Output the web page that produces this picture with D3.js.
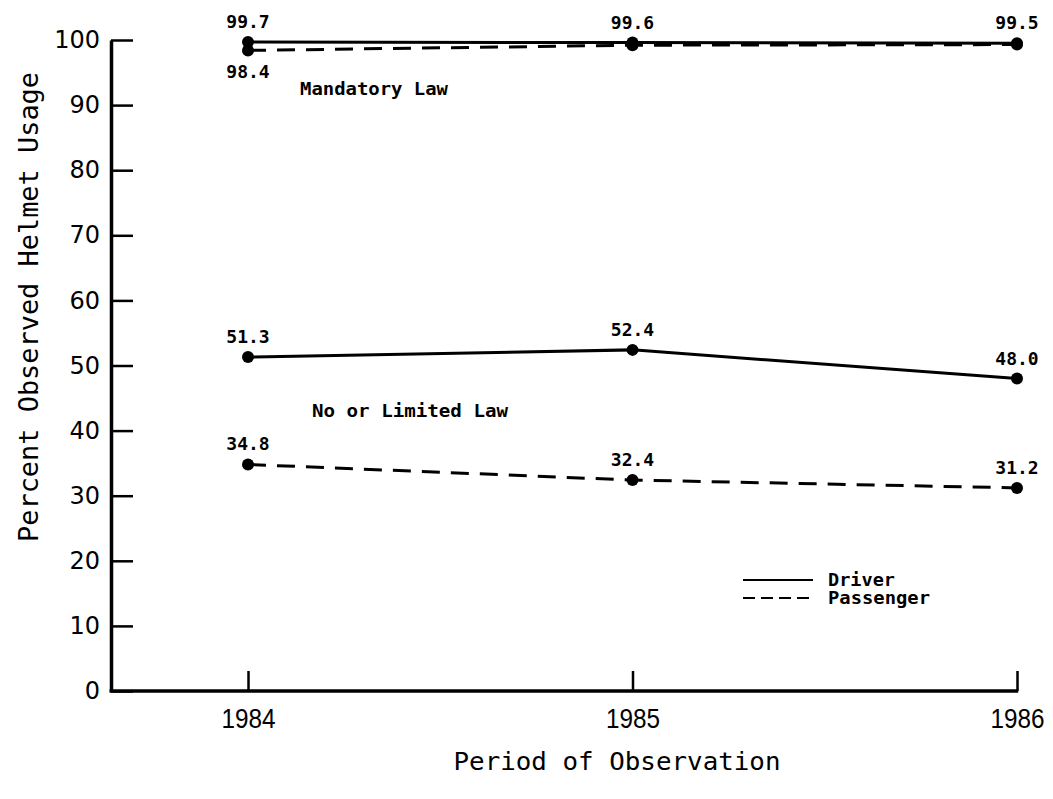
<!DOCTYPE html>
<html>
<head>
<meta charset="utf-8">
<script src="https://cdn.jsdelivr.net/npm/d3@7"></script>
<style>
  html, body { margin: 0; padding: 0; background: #fff; }
  svg { display: block; }
</style>
</head>
<body>
<svg id="chart" width="1053" height="799"></svg>
<script>
// ---- data ----
const years = [1984, 1985, 1986];
const yTicks = [0, 10, 20, 30, 40, 50, 60, 70, 80, 90, 100];
const mandatoryDriver = [99.7, 99.6, 99.5];
const mandatoryPassenger = [98.4, 99.2, 99.3];
const limitedDriver = [51.3, 52.4, 48.0];
const limitedPassenger = [34.8, 32.4, 31.2];
const mandatoryDriverLabels = ["99.7", "99.6", "99.5"];
const mandatoryPassengerLabels = ["98.4", null, null];
const limitedDriverLabels = ["51.3", "52.4", "48.0"];
const limitedPassengerLabels = ["34.8", "32.4", "31.2"];
const groupNames = ["Mandatory Law", "No or Limited Law"];
const legendNames = ["Driver", "Passenger"];
const xTitle = "Period of Observation";
const yTitle = "Percent Observed Helmet Usage";

// ---- layout ----
const svg = d3.select("#chart");
const axisX = 111;
const x = d3.scaleLinear().domain([1984, 1986]).range([248, 1017]);
const y = d3.scaleLinear().domain([0, 100]).range([691, 40]);
const ink = "#000";
const monoBold = "'DejaVu Sans Mono', monospace";

// y axis
const yAxis = svg.append("g")
  .attr("transform", `translate(${axisX},0)`)
  .call(d3.axisLeft(y).tickValues(yTicks).tickSizeInner(-22).tickSizeOuter(0).tickPadding(11));
yAxis.select(".domain").attr("stroke", ink).attr("stroke-width", 3.5);
yAxis.selectAll(".tick line").attr("stroke", ink).attr("stroke-width", 2.5);
yAxis.selectAll(".tick text")
  .attr("fill", ink)
  .style("font-family", "'DejaVu Sans', sans-serif")
  .style("font-size", "24px");

// x axis
const xAxis = svg.append("g")
  .attr("transform", `translate(0,${y(0)})`)
  .call(d3.axisBottom(x).tickValues(years).tickFormat(d3.format("d"))
    .tickSizeInner(-20).tickSizeOuter(0).tickPadding(17));
xAxis.select(".domain").remove();
xAxis.insert("line", ":first-child")
  .attr("x1", axisX - 1.5).attr("x2", x(1986) + 1.2)
  .attr("y1", 0).attr("y2", 0)
  .attr("stroke", ink).attr("stroke-width", 3.5);
xAxis.selectAll(".tick line").attr("stroke", ink).attr("stroke-width", 2.5);
xAxis.selectAll(".tick text")
  .attr("fill", ink)
  .attr("textLength", 54)
  .attr("lengthAdjust", "spacingAndGlyphs")
  .style("font-family", "'Liberation Sans Narrow', 'Liberation Sans', sans-serif")
  .style("font-size", "28px");

// ---- series ----
const series = [
  { values: mandatoryDriver, labels: mandatoryDriverLabels, dash: null, below: false },
  { values: mandatoryPassenger, labels: mandatoryPassengerLabels, dash: "18,11", below: true },
  { values: limitedDriver, labels: limitedDriverLabels, dash: null, below: false },
  { values: limitedPassenger, labels: limitedPassengerLabels, dash: "18,11", below: false }
];

const line = d3.line().x((d, i) => x(years[i])).y(d => y(d));

series.forEach(s => {
  svg.append("path")
    .datum(s.values)
    .attr("d", line)
    .attr("fill", "none")
    .attr("stroke", ink)
    .attr("stroke-width", 3)
    .attr("stroke-dasharray", s.dash);
  svg.append("g").selectAll("circle")
    .data(s.values)
    .join("circle")
    .attr("cx", (d, i) => x(years[i]))
    .attr("cy", d => y(d))
    .attr("r", 6)
    .attr("fill", ink);
  svg.append("g").selectAll("text")
    .data(s.values.map((v, i) => ({ v, i, t: s.labels[i] })).filter(d => d.t))
    .join("text")
    .attr("x", d => x(years[d.i]))
    .attr("y", d => s.below ? y(d.v) + 28 : y(d.v) - 14)
    .attr("text-anchor", "middle")
    .attr("fill", ink)
    .style("font-family", monoBold)
    .style("font-weight", "bold")
    .style("font-size", "18px")
    .text(d => d.t);
});

// group labels
svg.append("text")
  .attr("x", 300).attr("y", 95)
  .attr("textLength", 148).attr("lengthAdjust", "spacingAndGlyphs")
  .attr("fill", ink)
  .style("font-family", monoBold).style("font-weight", "bold").style("font-size", "18px")
  .text(groupNames[0]);
svg.append("text")
  .attr("x", 312).attr("y", 417)
  .attr("textLength", 196).attr("lengthAdjust", "spacingAndGlyphs")
  .attr("fill", ink)
  .style("font-family", monoBold).style("font-weight", "bold").style("font-size", "18px")
  .text(groupNames[1]);

// legend
const legend = svg.append("g");
[null, "12,6"].forEach((dash, i) => {
  const ly = 580 + i * 18;
  legend.append("line")
    .attr("x1", 743).attr("x2", 813)
    .attr("y1", ly).attr("y2", ly)
    .attr("stroke", ink).attr("stroke-width", 2.2)
    .attr("stroke-dasharray", dash);
  legend.append("text")
    .attr("x", 828).attr("y", ly + 6)
    .attr("textLength", i === 0 ? 67 : 102).attr("lengthAdjust", "spacingAndGlyphs")
    .attr("fill", ink)
    .style("font-family", monoBold).style("font-weight", "bold").style("font-size", "17px")
    .text(legendNames[i]);
});

// axis titles
svg.append("text")
  .attr("x", 617).attr("y", 770)
  .attr("text-anchor", "middle")
  .attr("textLength", 327).attr("lengthAdjust", "spacingAndGlyphs")
  .attr("fill", ink)
  .style("font-family", "'DejaVu Sans Mono', monospace").style("font-size", "25px")
  .text(xTitle);
svg.append("text")
  .attr("transform", "translate(38,307) rotate(-90)")
  .attr("text-anchor", "middle")
  .attr("textLength", 470).attr("lengthAdjust", "spacingAndGlyphs")
  .attr("fill", ink)
  .style("font-family", "'DejaVu Sans Mono', monospace").style("font-size", "26px")
  .text(yTitle);
</script>
</body>
</html>
